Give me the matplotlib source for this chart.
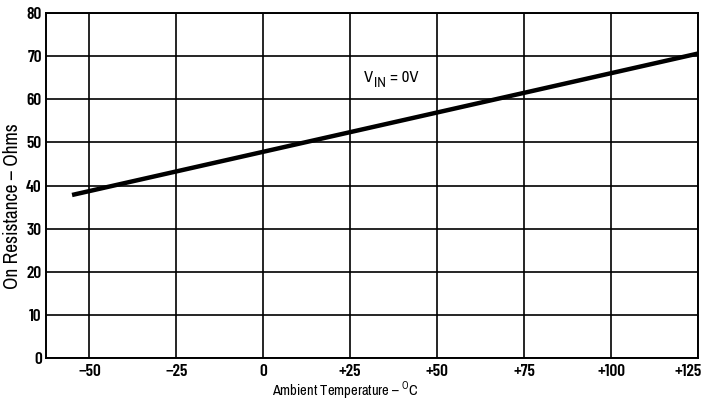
import matplotlib
matplotlib.use("Agg")
import matplotlib.pyplot as plt
import matplotlib.transforms as mtransforms
from matplotlib import font_manager

# Ambient temperature (deg C) and on-resistance (ohms)
temperature = [-55, 125]
resistance = [37.8, 70.6]

x_ticks = [-50, -25, 0, 25, 50, 75, 100, 125]
x_tick_labels = ["\u221250", "\u221225", "0", "+25", "+50", "+75", "+100", "+125"]
y_ticks = [0, 10, 20, 30, 40, 50, 60, 70, 80]

names = {f.name for f in font_manager.fontManager.ttflist}
label_fonts = [n for n in ("Archivo Narrow", "Barlow Condensed") if n in names][:1] + ["DejaVu Sans"]
tick_fonts = [n for n in ("Barlow Condensed", "Asap Condensed") if n in names][:1] + ["DejaVu Sans"]
plt.rcParams["font.family"] = label_fonts
plt.rcParams["mathtext.fontset"] = "custom"
plt.rcParams["mathtext.rm"] = label_fonts[0]
plt.rcParams["mathtext.sf"] = label_fonts[0]

fig = plt.figure(figsize=(7.05, 4.03), dpi=100)
ax = fig.add_axes([0.0652, 0.1117, 0.9248, 0.856])

ax.plot(temperature, resistance, color="black", lw=3.2, solid_capstyle="butt", zorder=3)

ax.set_xlim(-62.5, 125)
ax.set_ylim(0, 80)
ax.set_xticks(x_ticks)
ax.set_xticklabels(x_tick_labels)
ax.set_yticks(y_ticks)
ax.grid(True, color="black", lw=1.2)
ax.tick_params(length=0)
ax.tick_params(axis="x", pad=4)
ax.tick_params(axis="y", pad=3)
for lab in ax.get_xticklabels() + ax.get_yticklabels():
    lab.set_fontfamily(tick_fonts)
    lab.set_fontweight(600)
    lab.set_fontsize(12.5)
# keep the last temperature label inside the figure edge
last = ax.get_xticklabels()[-1]
last.set_transform(last.get_transform() + mtransforms.ScaledTranslation(-10 / 100, 0, fig.dpi_scale_trans))
for s in ax.spines.values():
    s.set_linewidth(1.4)

ax.set_xlabel("Ambient Temperature \u2013 $^{\\mathrm{O}}$C", fontsize=10.5, va="center")
ax.xaxis.set_label_coords(0.46, -0.095)
ax.set_ylabel("On Resistance \u2013 Ohms", fontsize=14, va="center")
ax.yaxis.set_label_coords(-0.051, 0.44)

# supply condition label: V with a large "IN" subscript, then "= 0V"
t_v = ax.text(29.0, 64.0, "V", fontsize=12, ha="left", va="baseline")
t_in = ax.annotate("IN", xy=(1, 0), xycoords=t_v, xytext=(0.3, -3.5),
                   textcoords="offset points", fontsize=10.5, ha="left", va="bottom")
ax.annotate("= 0V", xy=(1, 0), xycoords=t_in, xytext=(3, 3.5),
            textcoords="offset points", fontsize=12, ha="left", va="bottom")

fig.savefig("out.png", dpi=100)
